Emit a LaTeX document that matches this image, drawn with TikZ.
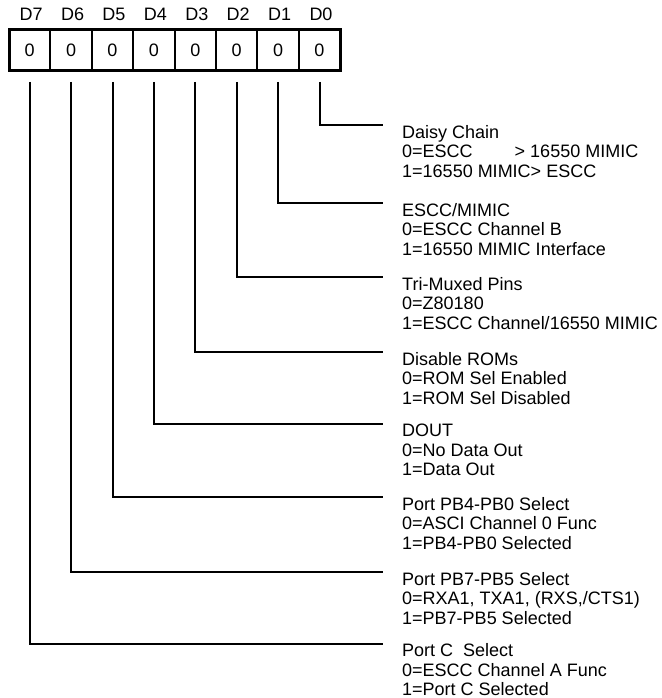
\documentclass[tikz,border=0pt]{standalone}
\usepackage{fontspec}
\setsansfont{Liberation Sans}
\usetikzlibrary{positioning, calc}

\begin{document}
\begin{tikzpicture}[x=1pt, y=1pt, font=\sffamily\fontsize{18}{19.5}\selectfont,
    label distance=8.5pt,
    cell/.style={draw, line width=2pt, minimum width=41.4pt, minimum height=41pt,
                 inner sep=0pt, outer sep=0pt},
    every label/.style={inner sep=0pt, xshift=1.5pt},
    desc/.style={anchor=north west, align=left, inner sep=0pt},
    wire/.style={line width=2pt}]

  \useasboundingbox (0,0) rectangle (661,-698);

  % The register, D7 on the left down to D0 on the right.
  \node[cell, label=above:D7] (b7) at (29.7,-50) {0};
  \node[cell, label=above:D6, right=0pt of b7] (b6) {0};
  \node[cell, label=above:D5, right=0pt of b6] (b5) {0};
  \node[cell, label=above:D4, right=0pt of b5] (b4) {0};
  \node[cell, label=above:D3, right=0pt of b4] (b3) {0};
  \node[cell, label=above:D2, right=0pt of b3] (b2) {0};
  \node[cell, label=above:D1, right=0pt of b2] (b1) {0};
  \node[cell, label=above:D0, right=0pt of b1] (b0) {0};
  \draw[line width=3pt] (b7.north west) rectangle (b0.south east);

  % What each bit selects.
  \node[desc] (d0) at (402,-125) {Daisy Chain\\0=ESCC\hspace{42pt}> 16550 MIMIC\\1=16550 MIMIC> ESCC};
  \node[desc] (d1) at (402,-203) {ESCC/MIMIC\\0=ESCC Channel B\\1=16550 MIMIC Interface};
  \node[desc] (d2) at (402,-277) {Tri-Muxed Pins\\0=Z80180\\1=ESCC Channel/16550 MIMIC};
  \node[desc] (d3) at (402,-352) {Disable ROMs\\0=ROM Sel Enabled\\1=ROM Sel Disabled};
  \node[desc] (d4) at (402,-424) {DOUT\\0=No Data Out\\1=Data Out};
  \node[desc] (d5) at (402,-497) {Port PB4-PB0 Select\\0=ASCI Channel 0 Func\\1=PB4-PB0 Selected};
  \node[desc] (d6) at (402,-572) {Port PB7-PB5 Select\\0=RXA1, TXA1, (RXS,/CTS1)\\1=PB7-PB5 Selected};
  \node[desc] (d7) at (402,-643.5) {Port C~ Select\\0=ESCC Channel A Func\\1=Port C Selected};

  % Lines from the bits to their texts.
  \draw[wire] ($(b0.south)+(0,-11.5)$) |- ($(d0.north west)+(-19,0)$);
  \draw[wire] ($(b1.south)+(0,-11.5)$) |- ($(d1.north west)+(-19,0)$);
  \draw[wire] ($(b2.south)+(0,-11.5)$) |- ($(d2.north west)+(-19,0)$);
  \draw[wire] ($(b3.south)+(0,-11.5)$) |- ($(d3.north west)+(-19,0)$);
  \draw[wire] ($(b4.south)+(0,-11.5)$) |- ($(d4.north west)+(-19,0)$);
  \draw[wire] ($(b5.south)+(0,-11.5)$) |- ($(d5.north west)+(-19,0)$);
  \draw[wire] ($(b6.south)+(0,-11.5)$) |- ($(d6.north west)+(-19,0)$);
  \draw[wire] ($(b7.south)+(0,-11.5)$) |- ($(d7.north west)+(-19,-0.5)$);
\end{tikzpicture}
\end{document}
